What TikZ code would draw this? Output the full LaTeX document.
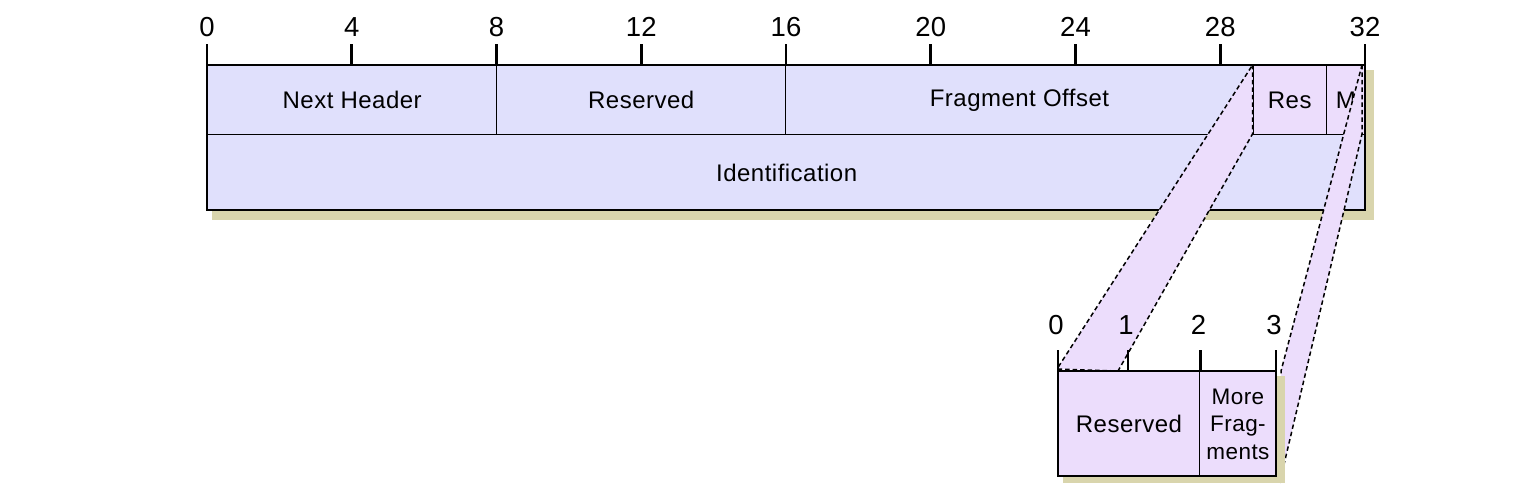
\documentclass[tikz,border=0pt]{standalone}
\usepackage{fontspec}
\setmainfont{Liberation Sans}
\definecolor{fblue}{HTML}{E0E0FC}
\definecolor{fpurple}{HTML}{ECDDFC}
\definecolor{shadowc}{HTML}{D9D5AD}
\begin{document}
\begin{tikzpicture}[x=1pt,y=-1pt,
  cell/.style={draw=black, line width=1.4pt, inner sep=0pt, anchor=north west,
    font=\fontsize{24}{27.5}\selectfont\addfontfeature{LetterSpace=2}},
  bluecell/.style={cell, fill=fblue},
  purplecell/.style={cell, fill=fpurple},
  outline/.style={draw=black, line width=2.8pt, line join=miter},
  shadowbox/.style={fill=shadowc, draw=none},
  tick/.style={draw=black, line width=2.8pt},
  ticklabel/.style={anchor=base, inner sep=0pt, font=\fontsize{27.5}{30}\selectfont},
  band/.style={fill=fpurple, draw=black, line width=1.5pt, dash pattern=on 4.5pt off 3pt}
]
\useasboundingbox (0,0) rectangle (1536,494);

% ---------- top header ----------
\fill[shadowbox] (212,70) rectangle (1374,220);
\node[bluecell, minimum width=289pt, minimum height=69pt] (nh) at (207,65) {Next Header};
\node[bluecell, minimum width=289pt, minimum height=69pt] (rsv) at (496,65) {Reserved};
\node[bluecell, minimum width=467.5pt, minimum height=69pt] (fo) at (785,65) {Fragment Offset};
\node[purplecell, minimum width=73pt, minimum height=69pt] (res) at (1252.5,65) {Res};
\node[purplecell, minimum width=39.5pt, minimum height=69pt] (m) at (1325.5,65) {M};
\node[bluecell, minimum width=1158pt, minimum height=76pt] (id) at (207,134) {Identification};
\draw[outline] (207,65) rectangle (1365,210);

% ticks of the top header
\foreach \b in {0,4,...,32} {
  \coordinate (t\b) at ({207+36.1875*\b},65);
  \draw[tick] (t\b) -- ++(0,-21) coordinate (tt\b);
  \node[ticklabel] (tl\b) at ({207+36.1875*\b},36.5) {\b};
}

% ---------- zoom bands ----------
\coordinate (la) at (1252.5,65);
\coordinate (lb) at (1252.5,134);
\coordinate (lc) at (1118,371);
\coordinate (ld) at (1057,369);
\draw[band] (la) -- (lb) -- (lc) -- (ld) -- cycle;
\coordinate (ra) at (1362,65);
\coordinate (rb) at (1362,134);
\coordinate (rc) at (1281,477);
\coordinate (rd) at (1281,371);
\draw[band] (ra) -- (rb) -- (rc) -- (rd) -- cycle;

% ---------- flag field detail ----------
\fill[shadowbox] (1063,376) rectangle (1285,483);
\node[purplecell, minimum width=140.5pt, minimum height=105pt] (fres) at (1058,371) {Reserved};
\node[purplecell, minimum width=77.5pt, minimum height=105pt, align=center,
  font=\fontsize{22.5}{27.5}\selectfont\addfontfeature{LetterSpace=2}] (fmf) at (1198.5,371) {More\\Frag-\\ments};
\draw[outline] (1058,371) rectangle (1276,476);
\foreach \b/\x in {0/1058,1/1128,2/1200.5,3/1276} {
  \coordinate (s\b) at (\x,371);
  \draw[tick] (s\b) -- ++(0,-21) coordinate (st\b);
  \node[ticklabel] (sl\b) at (\x-2,334) {\b};
}
\end{tikzpicture}
\end{document}
